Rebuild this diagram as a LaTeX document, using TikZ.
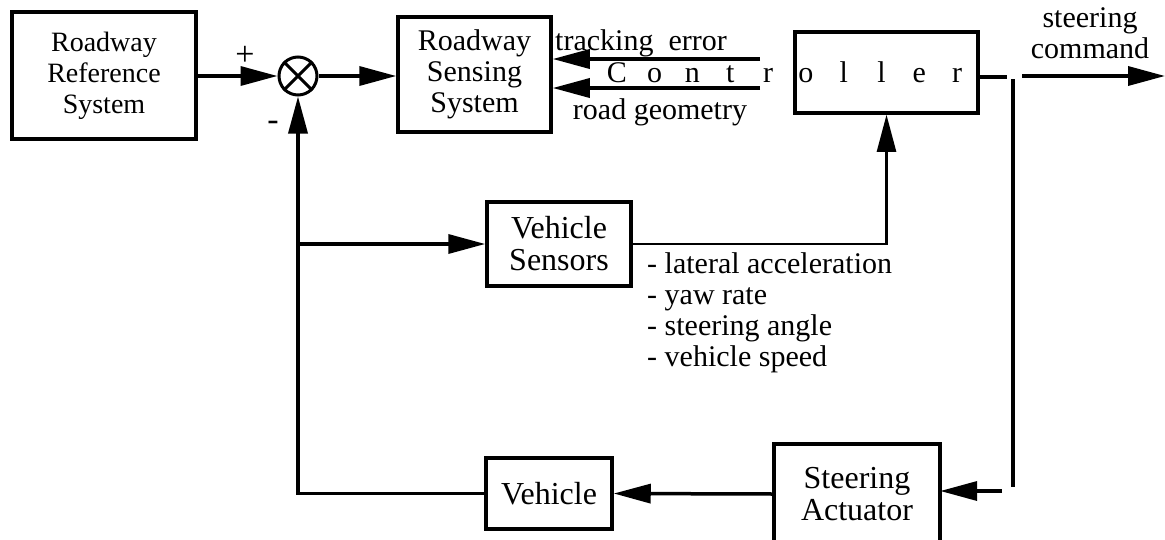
\documentclass[tikz,border=0pt]{standalone}
\usepackage{fontspec}
\setmainfont{Liberation Serif}
\usetikzlibrary{arrows.meta}
\newcommand{\myfs}{\fontsize{30}{31}\selectfont}
\newcommand{\myfsr}{\fontsize{28}{31}\selectfont}
\newcommand{\myfsb}{\fontsize{32}{32}\selectfont}
\newcommand{\lt}[1]{\makebox[37.8pt]{#1}}
\begin{document}
\begin{tikzpicture}[x=1pt,y=-1pt,
  box/.style={draw,line width=3.5pt,inner sep=0pt,align=center,font=\myfs},
  conn/.style={line width=3.5pt},
  arr/.style={conn,-{Triangle[length=37pt,width=19pt]}},
  lbl/.style={font=\myfs,inner sep=0pt}]
\useasboundingbox (0,0) rectangle (1165,539);
% blocks
\node[box,font=\myfsr,minimum width=184pt,minimum height=127pt] (rrs) at (104,75.5) {Roadway\\Reference\\System};
\node[draw,circle,line width=3pt,minimum size=38pt,inner sep=0pt] (sum) at (298,76) {};
\draw[line width=3pt] (sum.north west)--(sum.south east) (sum.north east)--(sum.south west);
\node[box,minimum width=153pt,minimum height=115pt] (rss) at (474.5,74.5) {Roadway\\Sensing\\System};
\node[box,minimum width=183pt,minimum height=81pt] (ctrl) at (886.5,72.5) {};
\node[lbl,anchor=base] (ctxt) at (787,82) {\lt{C}\lt{o}\lt{n}\lt{t}\lt{r}\lt{o}\lt{l}\lt{l}\lt{e}\lt{r}};
\node[box,font=\myfsb,minimum width=144pt,minimum height=84pt] (vs) at (559,244) {Vehicle\\Sensors};
\node[box,font=\myfsb,minimum width=126pt,minimum height=71pt] (veh) at (549,493.5) {Vehicle};
\node[minimum width=166pt,minimum height=100pt,inner sep=0pt,align=center,font=\myfsb] (sa) at (857,494) {Steering\\Actuator};
\draw[conn] (sa.south west)--(sa.north west)--(sa.north east)--(sa.south east);
% labels
\node[lbl,font=\fontsize{34}{34}\selectfont] (plus) at (245,56) {+};
\node[lbl,font=\fontsize{34}{34}\selectfont] (minus) at (273,126) {-};
\node[lbl] (tel) at (641,43) {tracking\ \ error};
\node[lbl] (rgl) at (660,112) {road geometry};
\node[lbl,align=center] (scl) at (1090,33) {steering\\command};
\node[lbl,anchor=west,align=left,font=\fontsize{30}{31}\selectfont] (bl) at (647,313) {- lateral acceleration\\- yaw rate\\- steering angle\\- vehicle speed};
% connectors
\draw[arr] (rrs.east |- sum.west) -- (sum.west);
\draw[arr] (sum.east) -- (sum.east -| rss.west);
\coordinate (te) at (760,59);
\coordinate (rg) at (760,88);
\draw[arr] (te) -- (te -| rss.east);
\draw[arr] (rg) -- (rg -| rss.east);
\coordinate (j1) at (1007,77);
\draw[conn] (ctrl.east |- j1) -- (j1);
\coordinate (vt) at (1013,79);
\coordinate (vb) at (1013,487);
\draw[conn] (vt) -- (vb);
\coordinate (sc0) at (1022,76);
\coordinate (sc1) at (1165,76);
\draw[arr] (sc0) -- (sc1);
\coordinate (sa0) at (1002,491);
\draw[arr] (sa0) -- (sa0 -| sa.east);
\draw[arr] (sa.west) -- (veh.east);
\draw[arr] (veh.west) -- (veh.west -| sum.south) -- (sum.south);
\draw[arr] (sum.south |- vs.west) -- (vs.west);
\draw[arr,line width=2.5pt] (vs.east) -- (vs.east -| ctrl.south) -- (ctrl.south);
\end{tikzpicture}
\end{document}
